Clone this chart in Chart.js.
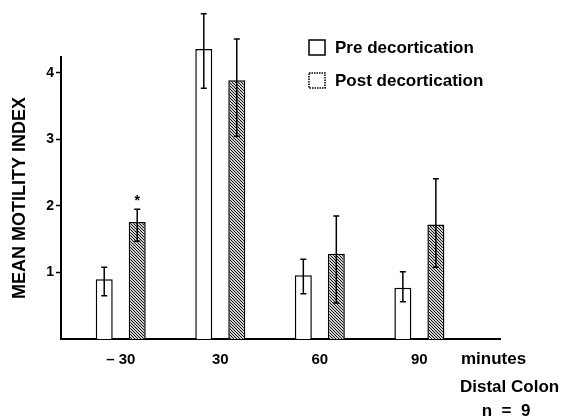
<!DOCTYPE html>
<html>
<head>
<meta charset="utf-8">
<script src="https://cdn.jsdelivr.net/npm/chart.js@4"></script>
<style>
  body { margin: 0; background: #fff; }
</style>
</head>
<body>
<canvas id="myChart" width="563" height="418"></canvas>
<script>
// values
const categories = ["– 30", "30", "60", "90"];
const preMean = [0.9, 4.36, 0.96, 0.77];
const preHigh = [1.08, 4.89, 1.2, 1.01];
const preLow = [0.65, 3.77, 0.68, 0.56];
const postMean = [1.76, 3.89, 1.28, 1.72];
const postHigh = [1.95, 4.51, 1.85, 2.41];
const postLow = [1.47, 3.05, 0.54, 1.08];
const postMarks = ["*", "", "", ""];
const yTicks = [1, 2, 3, 4];

const FONT = "'Liberation Sans', Arial, sans-serif";

function hatch() {
  const c = document.createElement("canvas");
  c.width = 3;
  c.height = 3;
  const g = c.getContext("2d");
  g.fillStyle = "#d0d0d0";
  g.fillRect(0, 0, 3, 3);
  g.strokeStyle = "#111";
  g.lineWidth = 1;
  g.beginPath();
  g.moveTo(-1, -1);
  g.lineTo(4, 4);
  g.stroke();
  return g.createPattern(c, "repeat");
}

const errorBars = {
  id: "errorBars",
  afterDatasetsDraw(chart) {
    const ctx = chart.ctx;
    const y = chart.scales.y;
    chart.data.datasets.forEach((ds, di) => {
      chart.getDatasetMeta(di).data.forEach((bar, i) => {
        const top = y.getPixelForValue(ds.errHigh[i]);
        const bot = y.getPixelForValue(ds.errLow[i]);
        ctx.save();
        ctx.strokeStyle = "#000";
        ctx.lineWidth = 1.5;
        ctx.beginPath();
        ctx.moveTo(bar.x, top);
        ctx.lineTo(bar.x, bot);
        ctx.moveTo(bar.x - 3, top);
        ctx.lineTo(bar.x + 3, top);
        ctx.moveTo(bar.x - 3, bot);
        ctx.lineTo(bar.x + 3, bot);
        ctx.stroke();
        if (ds.marks && ds.marks[i]) {
          ctx.fillStyle = "#000";
          ctx.font = "bold 14px " + FONT;
          ctx.textAlign = "center";
          ctx.textBaseline = "bottom";
          ctx.fillText(ds.marks[i], bar.x, top - 1);
        }
        ctx.restore();
      });
    });
  },
};

const notes = {
  id: "notes",
  afterDraw(chart) {
    const ctx = chart.ctx;
    const area = chart.chartArea;
    ctx.save();
    ctx.fillStyle = "#000";
    ctx.textBaseline = "middle";
    // legend
    chart.data.datasets.forEach((ds, i) => {
      const bx = 309, by = 40 + i * 33;
      ctx.fillStyle = "#fff";
      ctx.fillRect(bx, by, 16, 15);
      ctx.strokeStyle = "#000";
      ctx.lineWidth = 1.5;
      ctx.setLineDash(i ? [1.5, 1] : []);
      ctx.strokeRect(bx, by, 16, 15);
      ctx.setLineDash([]);
      ctx.fillStyle = "#000";
      ctx.font = "bold 17px " + FONT;
      ctx.textAlign = "left";
      ctx.fillText(ds.label, 335, by + 8);
    });
    ctx.font = "bold 17px " + FONT;
    ctx.textAlign = "left";
    ctx.fillText("minutes", area.right - 39, area.bottom + 20);
    ctx.fillText("Distal Colon", area.right - 40, area.bottom + 48);
    ctx.textAlign = "center";
    ctx.fillText("n  =  9", area.right + 6, area.bottom + 72);
    ctx.restore();
  },
};

const chart = new Chart(document.getElementById("myChart"), {
  type: "bar",
  data: {
    datasets: [
      {
        label: "Pre decortication",
        data: preMean.map((v, i) => ({ x: i, y: v })),
        errHigh: preHigh,
        errLow: preLow,
        backgroundColor: "#fff",
        borderColor: "#000",
        borderWidth: 1.5,
        clip: false,
      },
      {
        label: "Post decortication",
        data: postMean.map((v, i) => ({ x: i, y: v })),
        errHigh: postHigh,
        errLow: postLow,
        marks: postMarks,
        backgroundColor: hatch(),
        borderColor: "#000",
        borderWidth: 1.5,
        clip: false,
      },
    ],
  },
  options: {
    responsive: false,
    animation: false,
    categoryPercentage: 0.663,
    barPercentage: 0.515,
    layout: { padding: { top: 57, right: 63, left: 0, bottom: 0 } },
    plugins: {
      legend: { display: false },
      tooltip: { enabled: false },
    },
    scales: {
      x: {
        type: "linear",
        offset: false,
        min: -0.6,
        max: 3.81,
        afterBuildTicks: (s) => {
          s.ticks = categories.map((c, i) => ({ value: i }));
        },
        afterFit: (s) => {
          s.height = 79;
        },
        ticks: {
          color: "#000",
          font: { family: FONT, size: 15, weight: "bold" },
          padding: 12,
          maxRotation: 0,
          autoSkip: false,
          callback: (v) => categories[v],
        },
        grid: { display: true, drawOnChartArea: false, drawTicks: false, offset: false },
        border: { display: true, color: "#000", width: 2 },
      },
      y: {
        min: 0,
        max: 4.24,
        afterBuildTicks: (s) => {
          s.ticks = yTicks.map((v) => ({ value: v }));
        },
        afterFit: (s) => {
          s.width = 61;
        },
        title: {
          display: true,
          text: "MEAN MOTILITY INDEX",
          color: "#000",
          font: { family: FONT, size: 18, weight: "bold" },
          padding: { top: 9, bottom: 0 },
        },
        ticks: {
          color: "#000",
          font: { family: FONT, size: 14, weight: "bold" },
          padding: 2,
        },
        grid: { drawOnChartArea: false, tickLength: 5, color: "#000", tickWidth: 1.5 },
        border: { display: true, color: "#000", width: 2 },
      },
    },
  },
  plugins: [errorBars, notes],
});
</script>
</body>
</html>
